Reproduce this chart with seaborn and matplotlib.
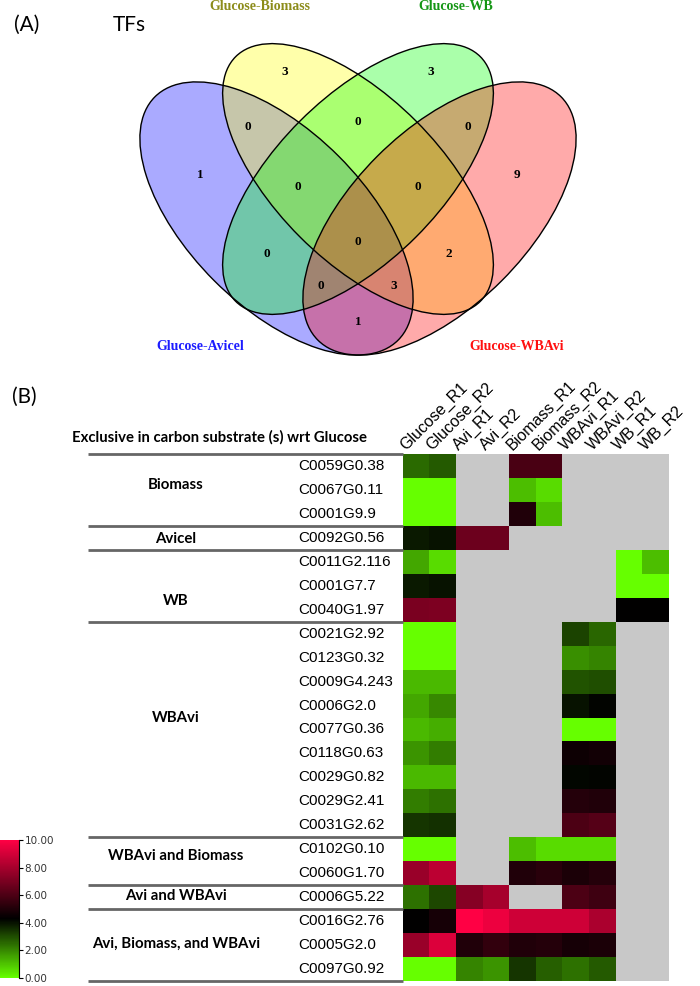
import numpy as np
import pandas as pd
import matplotlib
matplotlib.use("Agg")
import matplotlib.pyplot as plt
import seaborn as sns
from matplotlib.colors import LinearSegmentedColormap
from matplotlib.patches import Ellipse
from matplotlib.transforms import ScaledTranslation

nan = np.nan

# ---------------- Panel A data (Venn) ----------------
venn_sets = ["Glucose-Avicel", "Glucose-Biomass", "Glucose-WB", "Glucose-WBAvi"]
venn_regions = ["A", "B", "C", "D", "AB", "BC", "CD", "ABC", "BCD",
                "AC", "ABCD", "BD", "ACD", "ABD", "AD"]
venn_counts = [1, 3, 3, 9, 0, 0, 0, 0, 0, 0, 0, 2, 0, 3, 1]

# ---------------- Panel B data (heatmap) ----------------
col_labels = ["Glucose_R1", "Glucose_R2", "Avi_R1", "Avi_R2", "Biomass_R1",
              "Biomass_R2", "WBAvi_R1", "WBAvi_R2", "WB_R1", "WB_R2"]
row_labels = ["C0059G0.38", "C0067G0.11", "C0001G9.9", "C0092G0.56",
              "C0011G2.116", "C0001G7.7", "C0040G1.97",
              "C0021G2.92", "C0123G0.32", "C0009G4.243", "C0006G2.0", "C0077G0.36",
              "C0118G0.63", "C0029G0.82", "C0029G2.41", "C0031G2.62",
              "C0102G0.10", "C0060G1.70", "C0006G5.22",
              "C0016G2.76", "C0005G2.0", "C0097G0.92"]
group_names = ["Biomass", "Avicel", "WB", "WBAvi", "WBAvi and Biomass",
               "Avi and WBAvi", "Avi, Biomass, and WBAvi"]
group_sizes = [3, 1, 3, 9, 2, 1, 3]

glucose_r1 = [2.5, 0.0, 0.0, 3.9, 1.5, 3.9, 7.0, 0.0, 0.0, 1.2, 1.5, 1.2, 1.8, 1.2, 2.2, 3.4, 0.0, 7.7, 2.4, 4.3, 7.7, 0.0]
glucose_r2 = [2.8, 0.0, 0.0, 4.0, 0.6, 4.0, 7.1, 0.0, 0.0, 1.2, 2.0, 1.4, 2.2, 1.2, 2.4, 3.5, 0.0, 8.5, 3.1, 4.8, 9.2, 0.0]
avi_r1 = [nan, nan, nan, 6.7, nan, nan, nan, nan, nan, nan, nan, nan, nan, nan, nan, nan, nan, nan, 7.3, 10.0, 5.0, 2.1]
avi_r2 = [nan, nan, nan, 6.7, nan, nan, nan, nan, nan, nan, nan, nan, nan, nan, nan, nan, nan, nan, 8.0, 9.6, 5.4, 1.8]
biomass_r1 = [5.9, 1.1, 5.0, nan, nan, nan, nan, nan, nan, nan, nan, nan, nan, nan, nan, nan, 1.1, 5.0, nan, 8.9, 5.0, 3.4]
biomass_r2 = [5.9, 0.6, 1.1, nan, nan, nan, nan, nan, nan, nan, nan, nan, nan, nan, nan, nan, 0.6, 5.2, nan, 8.9, 5.1, 2.7]
wbavi_r1 = [nan, nan, nan, nan, nan, nan, nan, 3.2, 1.9, 2.9, 4.0, 0.0, 4.6, 4.2, 5.1, 6.0, 0.6, 4.9, 6.0, 8.9, 4.8, 2.4]
wbavi_r2 = [nan, nan, nan, nan, nan, nan, nan, 2.6, 2.1, 3.0, 4.25, 0.0, 4.7, 4.25, 5.0, 6.2, 0.6, 5.1, 5.7, 8.1, 4.9, 2.8]
wb_r1 = [nan, nan, nan, nan, 0.0, 0.0, 4.3, nan, nan, nan, nan, nan, nan, nan, nan, nan, nan, nan, nan, nan, nan, nan]
wb_r2 = [nan, nan, nan, nan, 1.1, 0.0, 4.3, nan, nan, nan, nan, nan, nan, nan, nan, nan, nan, nan, nan, nan, nan, nan]
cbar_ticks = [0, 2, 4, 6, 8, 10]

# ---------------- figure ----------------
fig = plt.figure(figsize=(7, 9.86), dpi=100)
ov = fig.add_axes([0, 0, 1, 1])
ov.set_xlim(0, 700)
ov.set_ylim(986, 0)
ov.axis("off")

# Venn layout (pixel space)
ell_geom = [((276.5, 218.5), 172, 88, 45), ((358, 179), 173, 82, 45),
            ((358, 179), 173, 82, -45), ((439.5, 218.5), 172, 88, -45)]
ell_fill = ["#0000FF", "#FFFF00", "#00FF00", "#FF0000"]
lab_col = ["#1C1CFF", "#8C8C1A", "#149614", "#FF1010"]
lab_pos = [(200, 346), (260, 7), (456, 7), (517, 346)]
region_pos = [(200, 175), (285, 72), (431, 72), (517, 175), (248, 127), (358, 122),
              (468, 127), (298, 187), (418, 187), (267, 254), (358, 242), (449, 254),
              (321, 286), (394, 286), (358, 322)]

for (c, a, b, ang), col in zip(ell_geom, ell_fill):
    ov.add_patch(Ellipse(c, 2 * a, 2 * b, angle=ang, facecolor=col, alpha=1 / 3,
                         edgecolor="none", zorder=1))
for (c, a, b, ang) in ell_geom:
    ov.add_patch(Ellipse(c, 2 * a, 2 * b, angle=ang, fill=False, edgecolor="black",
                         lw=1.0, zorder=2))
for name, pos, col in zip(venn_sets, lab_pos, lab_col):
    ov.text(pos[0], pos[1], name, ha="center", va="center", color=col,
            family="Liberation Serif", fontweight="bold", fontsize=10)
for cnt, pos in zip(venn_counts, region_pos):
    ov.text(pos[0], pos[1], str(cnt), ha="center", va="center", color="black",
            family="Liberation Serif", fontweight="bold", fontsize=9.5, zorder=3)

ov.text(14, 25, "(A)", ha="left", va="center", fontsize=15, family="Lato")
ov.text(113, 25, "TFs", ha="left", va="center", fontsize=15, family="Lato")
ov.text(12, 397, "(B)", ha="left", va="center", fontsize=15, family="Lato")
ov.text(220, 437, "Exclusive in carbon substrate (s) wrt Glucose", ha="center",
        va="center", fontsize=10.7, family="Lato", fontweight="bold")

# ---------------- heatmap ----------------
df = pd.DataFrame({c: v for c, v in zip(col_labels, [glucose_r1, glucose_r2, avi_r1, avi_r2,
                                                      biomass_r1, biomass_r2, wbavi_r1, wbavi_r2,
                                                      wb_r1, wb_r2])}, index=row_labels)

hx_left, hx_right, hx_top, hx_bot = 402.7, 669.0, 454.0, 981.0
hx = fig.add_axes([hx_left / 700, 1 - hx_bot / 986, (hx_right - hx_left) / 700,
                   (hx_bot - hx_top) / 986])
cax = fig.add_axes([0, 1 - 978 / 986, 19 / 700, 138 / 986])
cmap = LinearSegmentedColormap.from_list(
    "gbr", [(0.0, "#66FF00"), (0.43, "#000000"), (1.0, "#FF0044")])
sns.heatmap(df, ax=hx, cmap=cmap, vmin=0, vmax=10, cbar_ax=cax,
            cbar_kws={"ticks": cbar_ticks, "format": "%.2f"},
            xticklabels=True, yticklabels=True)
hx.set_facecolor("#C8C8C8")

hx.xaxis.tick_top()
hx.set_xticklabels(col_labels, rotation=45, ha="left", va="bottom",
                   rotation_mode="anchor", fontsize=11.5, family="Liberation Sans")
hx.tick_params(axis="x", length=0, pad=1)
for lab in hx.get_xticklabels():
    lab.set_transform(lab.get_transform() + ScaledTranslation(-0.08, 0, fig.dpi_scale_trans))
hx.set_yticklabels(row_labels, rotation=0, ha="left", fontsize=11,
                   family="Liberation Sans")
hx.tick_params(axis="y", length=0, pad=(hx_left - 298) * 0.72)
hx.set_xlabel("")
hx.set_ylabel("")

px_per_col = (hx_right - hx_left) / len(col_labels)
x_line = (88 - hx_left) / px_per_col
x_group = (176 - hx_left) / px_per_col
bounds = np.concatenate([[0], np.cumsum(group_sizes)])
for yb in bounds:
    hx.plot([x_line, 0], [yb, yb], color="#666666", lw=2, clip_on=False,
            solid_capstyle="butt")
group_y = [1.3, 3.55, 6.15, 11.0, 16.8, 18.45, 20.45]
for name, gy in zip(group_names, group_y):
    hx.text(x_group, gy, name, ha="center", va="center", fontsize=10.8, family="Lato",
            fontweight="bold", clip_on=False)
hx.set_xlim(0, len(col_labels))
hx.set_ylim(len(row_labels), 0)

cbar = hx.collections[0].colorbar
cbar.outline.set_visible(False)
cax.tick_params(labelsize=7.5, length=3, width=0.8, colors="black", labelcolor="#333333", pad=1)
cax.plot([1, 1], [0, 1], transform=cax.transAxes, color="black", lw=0.8, clip_on=False)

fig.savefig("out.png", dpi=100)
